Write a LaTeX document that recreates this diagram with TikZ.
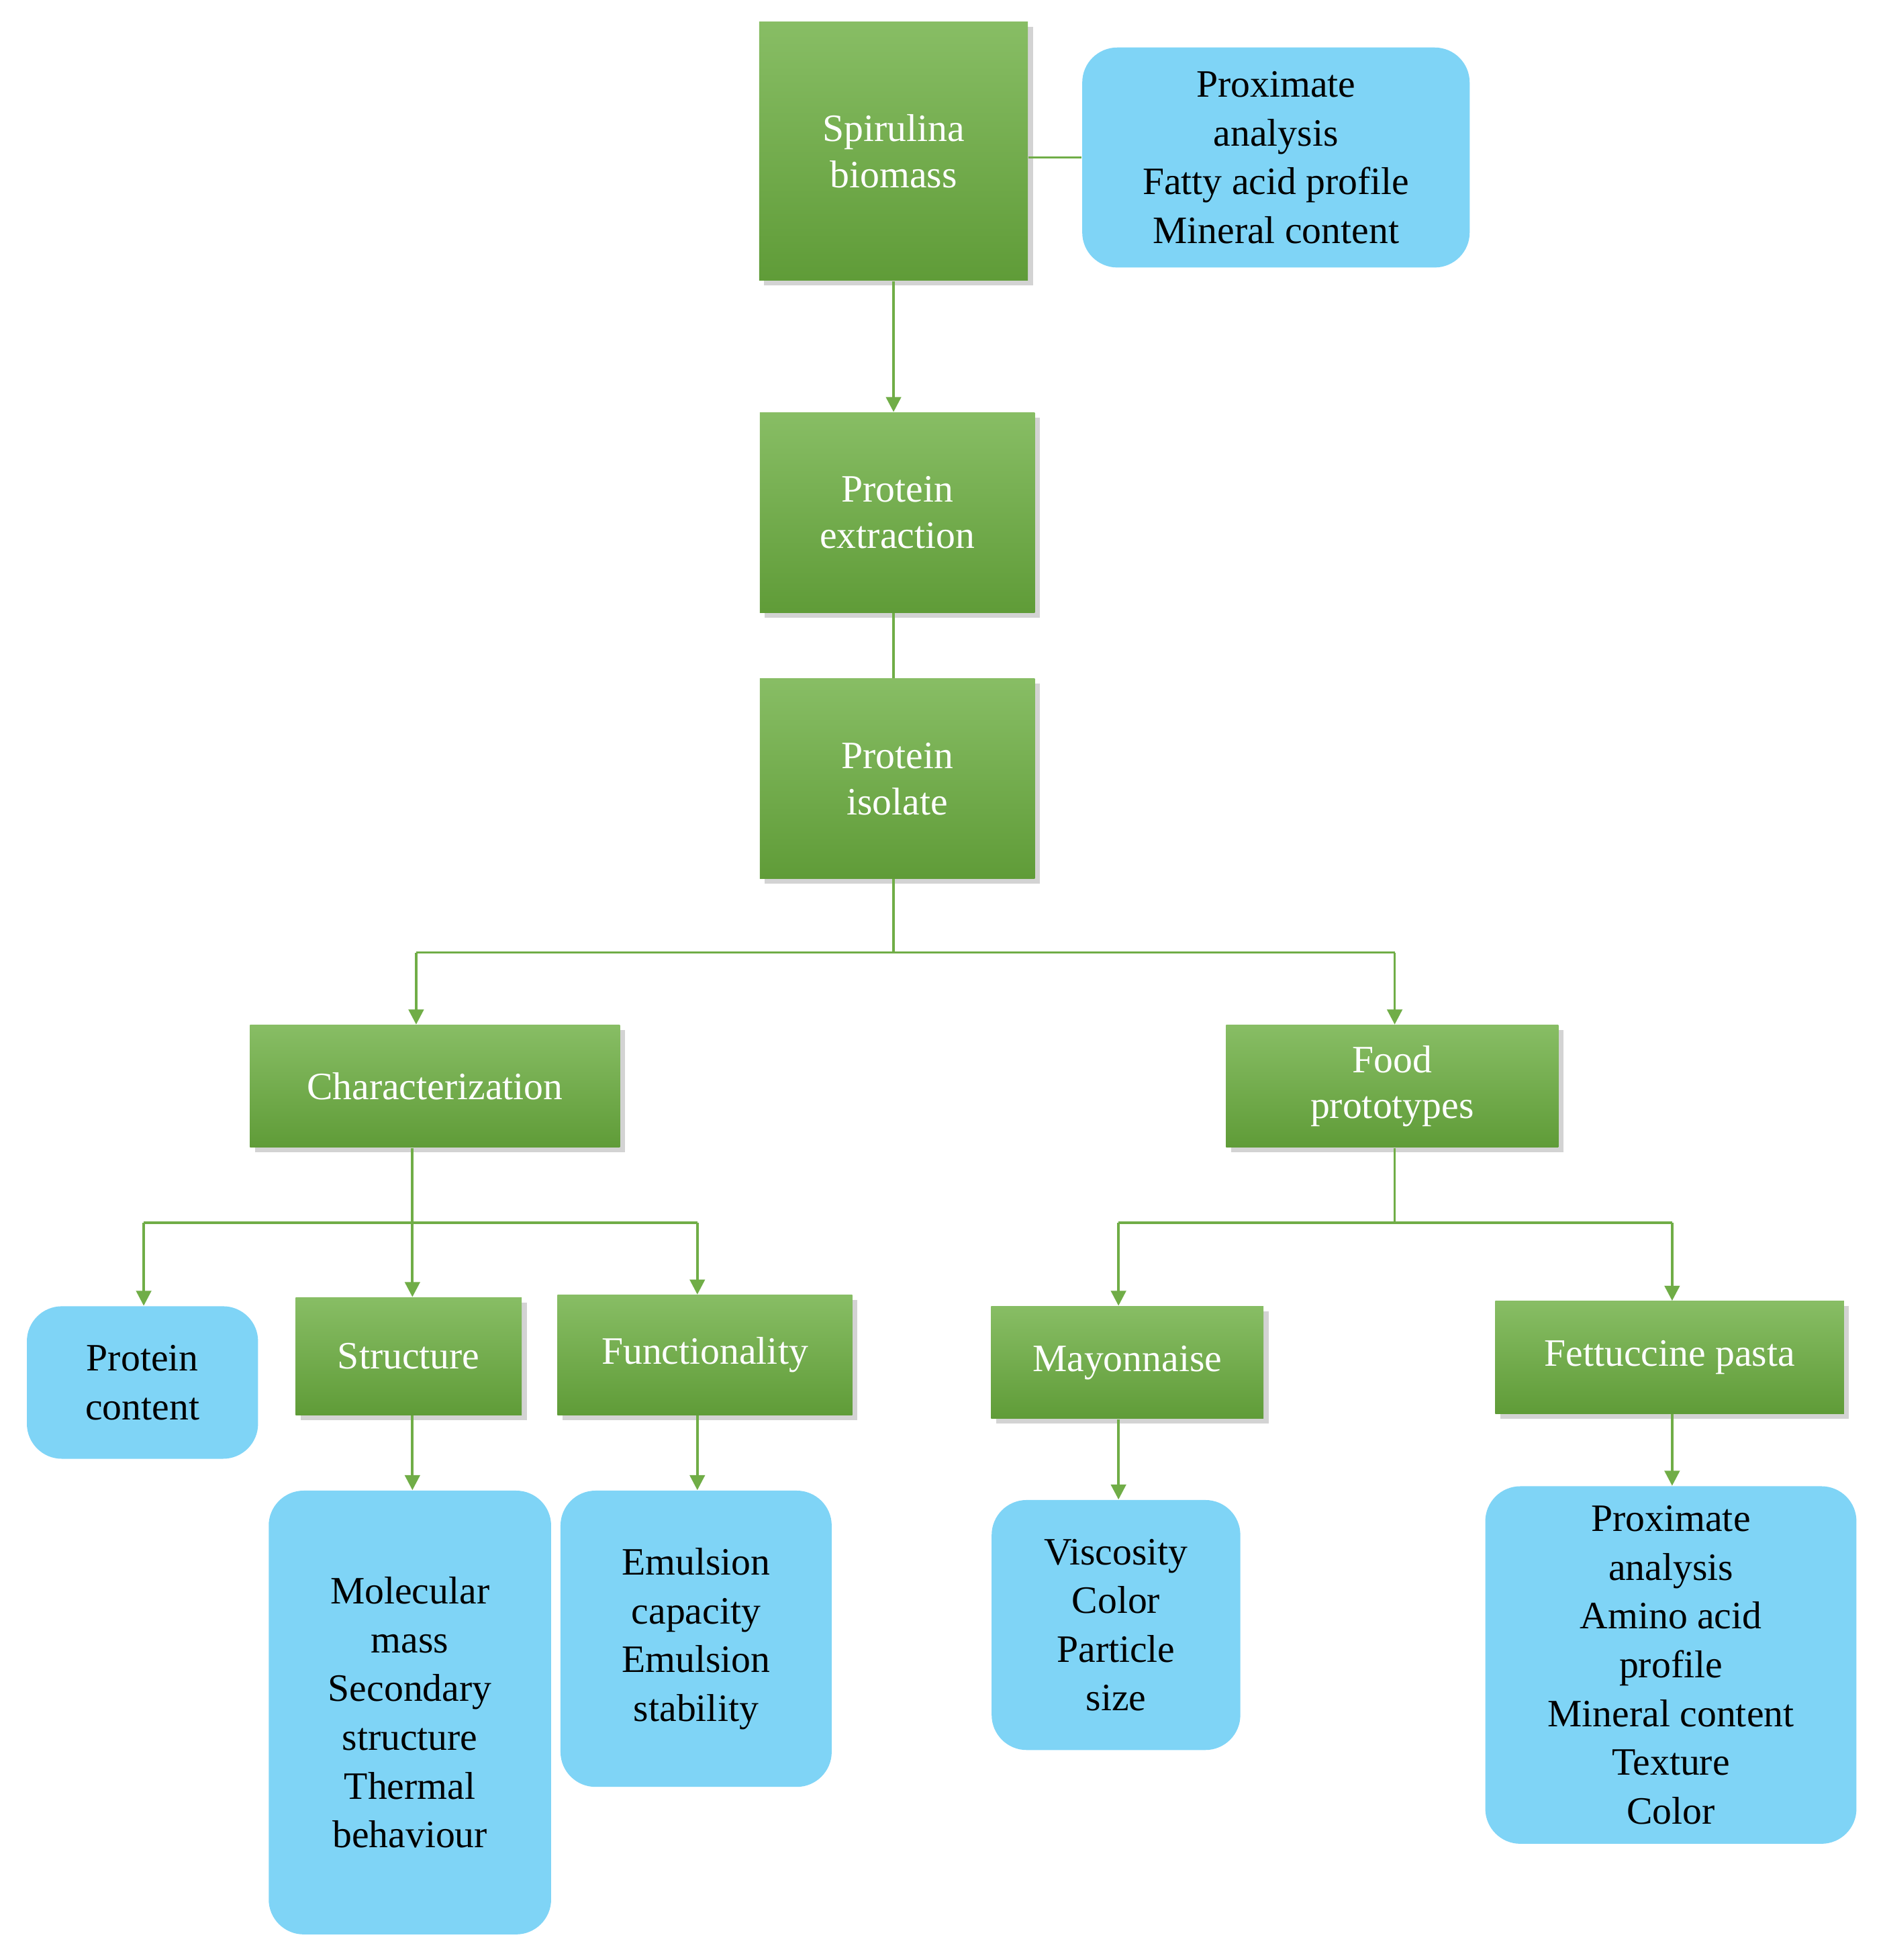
\documentclass[tikz,border=0pt]{standalone}
\usepackage{fontspec}
\setmainfont{Liberation Serif}
\usetikzlibrary{shadows,arrows.meta}
\definecolor{gbox}{HTML}{6AAD3E}
\definecolor{gline}{HTML}{70AD47}
\definecolor{bbox}{HTML}{7FD4F6}
\begin{document}
\begin{tikzpicture}[x=0.5pt,y=-0.5pt,
 g/.style={draw=none,top color=gbox!80!white,bottom color=gbox!90!black,text=white,align=center,font=\fontsize{15.5}{18.5}\selectfont,drop shadow={opacity=0.35,shadow xshift=2pt,shadow yshift=-2pt},inner sep=0pt},
 b/.style={fill=bbox,rounded corners=14pt,text=black,align=center,font=\fontsize{15.5}{19.5}\selectfont,inner sep=0pt},
 l/.style={draw=gline,line width=1pt},
 a/.style={l,-{Triangle[length=6pt,width=6pt]}}]
\useasboundingbox (0,0) rectangle (1505,1568);
\node[g,minimum width=107.5pt,minimum height=103.5pt] (sb) at (715,121) {Spirulina\\biomass};
\node[b,minimum width=155pt,minimum height=88pt] (pa) at (1021,126) {Proximate\\analysis\\Fatty acid profile\\Mineral content};
\node[g,minimum width=110pt,minimum height=80pt] (pe) at (718,410) {Protein\\extraction};
\node[g,minimum width=110pt,minimum height=80pt] (pi) at (718,623) {Protein\\isolate};
\node[g,minimum width=148pt,minimum height=49pt] (ch) at (348,869) {Characterization};
\node[g,minimum width=133pt,minimum height=49pt] (fp) at (1114,869) {Food\\prototypes};
\node[b,minimum width=92.5pt,minimum height=61pt] (pc) at (114,1106) {Protein\\content};
\node[g,minimum width=90.5pt,minimum height=47pt] (st) at (327,1085) {Structure};
\node[g,minimum width=118pt,minimum height=48pt] (fu) at (564,1084) {Functionality};
\node[g,minimum width=109pt,minimum height=45pt] (ma) at (902,1090) {Mayonnaise};
\node[g,minimum width=139.5pt,minimum height=45pt] (fe) at (1336,1086) {Fettuccine pasta};
\node[b,minimum width=113pt,minimum height=177.5pt] (mm) at (328,1370) {Molecular\\mass\\Secondary\\structure\\Thermal\\behaviour};
\node[b,minimum width=108.5pt,minimum height=118.5pt] (em) at (557,1311) {Emulsion\\capacity\\Emulsion\\stability};
\node[b,minimum width=99.5pt,minimum height=100pt] (vi) at (893,1300) {Viscosity\\Color\\Particle\\size};
\node[b,minimum width=148.5pt,minimum height=143pt] (pb) at (1337,1332) {Proximate\\analysis\\Amino acid\\profile\\Mineral content\\Texture\\Color};
\coordinate (j1) at (715,762);
\coordinate (j1l) at (333,762);
\coordinate (j1r) at (1116,762);
\coordinate (j2) at (330,978);
\coordinate (j2l) at (115,978);
\coordinate (j2r) at (558,978);
\coordinate (j3) at (1116,978);
\coordinate (j3l) at (895,978);
\coordinate (j3r) at (1338,978);
\draw[l] (sb.east |- pa.west) -- (pa.west);
\draw[a] (sb.south) -- (pe.north -| sb.south);
\draw[l] (pe.south -| j1) -- (pi.north -| j1);
\draw[l] (pi.south -| j1) -- (j1);
\draw[l] (j1l) -- (j1r);
\draw[a] (j1l) -- (j1l |- ch.north);
\draw[a] (j1r) -- (j1r |- fp.north);
\draw[l] (ch.south -| j2) -- (j2);
\draw[l] (j2l) -- (j2r);
\draw[a] (j2l) -- (j2l |- pc.north);
\draw[a] (j2) -- (j2 |- st.north);
\draw[a] (j2r) -- (j2r |- fu.north);
\draw[l] (fp.south -| j3) -- (j3);
\draw[l] (j3l) -- (j3r);
\draw[a] (j3l) -- (j3l |- ma.north);
\draw[a] (j3r) -- (j3r |- fe.north);
\draw[a] (st.south -| j2) -- (j2 |- mm.north);
\draw[a] (fu.south -| j2r) -- (j2r |- em.north);
\draw[a] (ma.south -| j3l) -- (j3l |- vi.north);
\draw[a] (fe.south -| j3r) -- (j3r |- pb.north);
\end{tikzpicture}
\end{document}
